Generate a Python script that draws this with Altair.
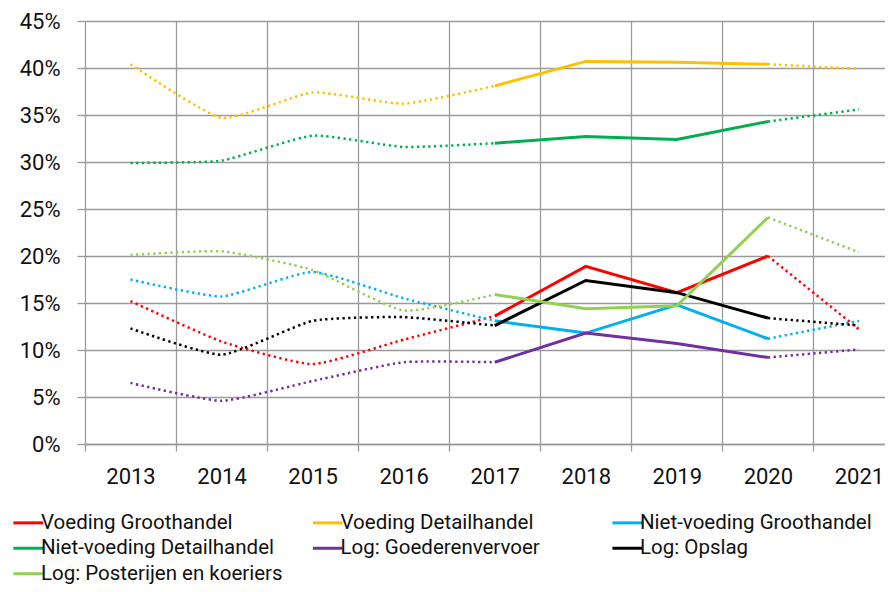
import altair as alt
import pandas as pd

years = [2013, 2014, 2015, 2016, 2017, 2018, 2019, 2020, 2021]
series_names = [
    "Voeding Groothandel",
    "Voeding Detailhandel",
    "Niet-voeding Groothandel",
    "Niet-voeding Detailhandel",
    "Log: Goederenvervoer",
    "Log: Opslag",
    "Log: Posterijen en koeriers",
]
colors = ["#FF0000", "#FFC000", "#00B0F0", "#00B050", "#7030A0", "#000000", "#92D050"]

voeding_groothandel = [15.2, 10.9, 8.5, 11.1, 13.6, 18.9, 16.1, 20.0, 12.2]
voeding_detailhandel = [40.4, 34.7, 37.4, 36.2, 38.1, 40.7, 40.6, 40.4, 39.9]
nietvoeding_groothandel = [17.5, 15.7, 18.3, 15.5, 13.1, 11.8, 14.8, 11.2, 13.1]
nietvoeding_detailhandel = [29.9, 30.15, 32.8, 31.6, 32.0, 32.7, 32.4, 34.3, 35.6]
log_goederenvervoer = [6.5, 4.6, 6.7, 8.7, 8.7, 11.8, 10.7, 9.2, 10.05]
log_opslag = [12.3, 9.5, 13.1, 13.5, 12.6, 17.4, 16.1, 13.4, 12.6]
log_posterijen = [20.1, 20.5, 18.5, 14.2, 15.9, 14.4, 14.7, 24.1, 20.4]

all_values = [
    voeding_groothandel,
    voeding_detailhandel,
    nietvoeding_groothandel,
    nietvoeding_detailhandel,
    log_goederenvervoer,
    log_opslag,
    log_posterijen,
]

rows = []
for name, vals in zip(series_names, all_values):
    for yr, v in zip(years, vals):
        if yr <= 2017:
            rows.append(dict(series=name, year=yr, value=v, part="early"))
        if 2017 <= yr <= 2020:
            rows.append(dict(series=name, year=yr, value=v, part="mid"))
        if yr >= 2020:
            rows.append(dict(series=name, year=yr, value=v, part="late"))
df = pd.DataFrame(rows)

FONT = "Roboto"
GRID = "#9a9a9a"

x_enc = alt.X(
    "year:Q",
    title=None,
    scale=alt.Scale(domain=[2012.5, 2021.286], nice=False, zero=False),
    axis=alt.Axis(
        values=[2012.5 + i for i in range(9)],
        labelExpr="format(datum.value + 0.5, 'd')",
        labelOffset=45.5,
        labelOverlap=False,
        labelBound=False,
        labelFlush=False,
        grid=True,
        gridColor=GRID,
        gridWidth=1.3,
        domain=True,
        domainColor=GRID,
        domainWidth=1.3,
        ticks=True,
        tickSize=7,
        tickColor=GRID,
        tickWidth=1.3,
        labelFont=FONT,
        labelFontSize=22,
        labelColor="#111111",
        labelPadding=15,
    ),
)
y_enc = alt.Y(
    "value:Q",
    title=None,
    scale=alt.Scale(domain=[0, 45], nice=False, zero=True),
    axis=alt.Axis(
        values=list(range(0, 50, 5)),
        labelExpr="datum.value + '%'",
        grid=True,
        gridColor=GRID,
        gridWidth=1.3,
        domain=False,
        ticks=True,
        tickSize=8,
        tickColor=GRID,
        tickWidth=1.3,
        labelFont=FONT,
        labelFontSize=22,
        labelColor="#111111",
        labelPadding=17,
    ),
)

scale = alt.Scale(domain=series_names, range=colors)

base = alt.Chart(df)

solid = base.transform_filter("datum.part == 'mid'").mark_line(strokeWidth=3).encode(
    x=x_enc,
    y=y_enc,
    color=alt.Color(
        "series:N",
        scale=scale,
        sort=series_names,
        legend=alt.Legend(
            title=None,
            orient="none",
            legendX=-67,
            legendY=491.5,
            direction="horizontal",
            columns=3,
            symbolType="M-2.2,0H2.2",
            symbolSize=182,
            symbolStrokeWidth=3,
            labelFont=FONT,
            labelFontSize=20.5,
            labelColor="#111111",
            labelOffset=2.5,
            labelLimit=400,
            columnPadding=23.5,
            rowPadding=4.5,
            gridAlign="all",
            padding=0,
        ),
    ),
    detail="series:N",
)

early = base.transform_filter("datum.part == 'early'").mark_line(
    strokeWidth=2.5, strokeDash=[2.3, 3.4], interpolate="cardinal", tension=0.5
).encode(
    x=x_enc,
    y=y_enc,
    color=alt.Color("series:N", scale=scale, legend=None),
    detail="series:N",
)

late = base.transform_filter("datum.part == 'late'").mark_line(
    strokeWidth=2.5, strokeDash=[2.3, 3.4]
).encode(
    x=x_enc,
    y=y_enc,
    color=alt.Color("series:N", scale=scale, legend=None),
    detail="series:N",
)

chart = (
    alt.layer(solid, early, late)
    .properties(
        width=800,
        height=423,
        padding={"left": 77, "top": 13, "right": 0, "bottom": 140},
        autosize=alt.AutoSizeParams(type="none"),
        background="white",
    )
    .configure_view(stroke=None)
)

chart.save("out.html", embed_options={"renderer": "svg", "actions": False})
